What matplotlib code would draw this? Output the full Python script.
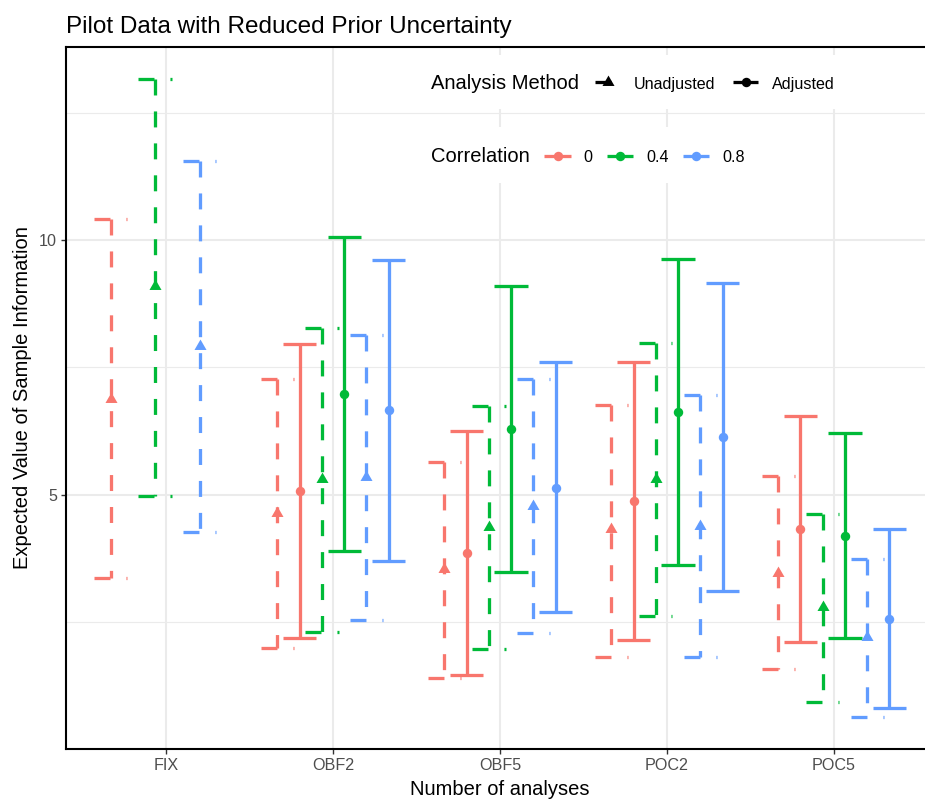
import numpy as np
import matplotlib
matplotlib.use("Agg")
import matplotlib.pyplot as plt
from matplotlib.path import Path
from matplotlib.patches import Rectangle
from matplotlib.lines import Line2D

plt.rcParams["font.family"] = ["Liberation Sans", "DejaVu Sans"]
plt.rcParams["lines.scale_dashes"] = False

# ---- data -------------------------------------------------------------
categories = ["FIX", "OBF2", "OBF5", "POC2", "POC5"]
correlations = ["0", "0.4", "0.8"]
methods = ["Unadjusted", "Adjusted"]
nan = np.nan

# Unadjusted analysis
unadj_upper = {
    "0":   [10.41, 7.28, 5.64, 6.76, 5.36],
    "0.4": [13.17, 8.27, 6.75, 7.98, 4.62],
    "0.8": [11.56, 8.13, 7.28, 6.96, 3.74],
}
unadj_est = {
    "0":   [6.88, 4.65, 3.54, 4.33, 3.47],
    "0.4": [9.10, 5.31, 4.37, 5.31, 2.79],
    "0.8": [7.92, 5.34, 4.78, 4.39, 2.20],
}
unadj_lower = {
    "0":   [3.36, 1.99, 1.40, 1.82, 1.58],
    "0.4": [4.98, 2.31, 1.97, 2.61, 0.92],
    "0.8": [4.26, 2.53, 2.28, 1.82, 0.63],
}

# Adjusted analysis (not defined for the fixed design)
adj_upper = {
    "0":   [nan, 7.96, 6.25, 7.60, 6.54],
    "0.4": [nan, 10.07, 9.10, 9.63, 6.21],
    "0.8": [nan, 9.62, 7.61, 9.16, 4.32],
}
adj_est = {
    "0":   [nan, 5.07, 3.85, 4.87, 4.33],
    "0.4": [nan, 6.97, 6.29, 6.62, 4.19],
    "0.8": [nan, 6.66, 5.14, 6.13, 2.56],
}
adj_lower = {
    "0":   [nan, 2.19, 1.45, 2.14, 2.11],
    "0.4": [nan, 3.89, 3.48, 3.61, 2.19],
    "0.8": [nan, 3.70, 2.69, 3.10, 0.81],
}

series = {
    "Unadjusted": (unadj_lower, unadj_est, unadj_upper),
    "Adjusted": (adj_lower, adj_est, adj_upper),
}

# ---- styling ----------------------------------------------------------
colors = {"0": "#F8766D", "0.4": "#00BA38", "0.8": "#619CFF"}
dash = (0, (11.5, 11.5))
line_styles = {"Unadjusted": dash, "Adjusted": "-"}

# equilateral triangle (centroid at origin) like R's pch 17
tri_verts = [(0.0, 1.1547), (-1.0, -0.5774), (1.0, -0.5774), (0.0, 1.1547)]
tri_marker = Path(tri_verts, [Path.MOVETO, Path.LINETO, Path.LINETO, Path.CLOSEPOLY])
markers = {"Unadjusted": tri_marker, "Adjusted": "o"}
marker_sizes = {"Unadjusted": 10.0, "Adjusted": 6.8}

LW = 2.35
W, H = 925, 801
fig = plt.figure(figsize=(W / 100, H / 100), dpi=100)


def fx(px):
    return px / W


def fy(py):
    return 1 - py / H


# panel extends past the right edge of the canvas
ax = fig.add_axes([fx(66), fy(749), fx(934 - 66), fy(47) - fy(749)])

# y limits with 5% expansion of the data range
all_vals = []
for m in methods:
    lo, _, hi = series[m]
    for c in correlations:
        all_vals += [v for v in lo[c] + hi[c] if not np.isnan(v)]
ymin, ymax = min(all_vals), max(all_vals)
pad = 0.05 * (ymax - ymin)
ax.set_ylim(ymin - pad, ymax + pad)
ax.set_xlim(-0.6, len(categories) - 0.4)

# grid
grid_col = "#EBEBEB"
for yv in [2.5, 7.5, 12.5]:
    ax.axhline(yv, color=grid_col, lw=0.8, zorder=0)
for yv in [5, 10]:
    ax.axhline(yv, color=grid_col, lw=1.5, zorder=0)
for xv in range(len(categories)):
    ax.axvline(xv, color=grid_col, lw=1.5, zorder=0)

# dodged error bars + points
n_slots = len(correlations) * len(methods)
dodge_w = 0.8
slot_w = dodge_w / n_slots
cap_half = 0.1
xpos = np.arange(len(categories))

for ci, c in enumerate(correlations):
    for mi, m in enumerate(methods):
        slot = ci * len(methods) + mi
        off = (slot - (n_slots - 1) / 2) * slot_w
        lo, est, hi = series[m]
        for k, x0 in enumerate(xpos):
            l, e, u = lo[c][k], est[c][k], hi[c][k]
            if np.isnan(l):
                continue
            x = x0 + off
            kw = dict(color=colors[c], lw=LW, linestyle=line_styles[m],
                      solid_capstyle="butt", dash_capstyle="butt", zorder=3)
            ax.plot([x - cap_half, x + cap_half], [u, u], **kw)
            ax.plot([x, x], [u, l], **kw)
            ax.plot([x - cap_half, x + cap_half], [l, l], **kw)
            ax.plot([x], [e], marker=markers[m], ms=marker_sizes[m],
                    color=colors[c], mec="none", linestyle="none", zorder=4)

# axes decoration
ax.set_xticks(xpos)
ax.set_xticklabels(categories)
ax.set_yticks([5, 10])
ax.set_yticklabels(["5", "10"])
ax.tick_params(axis="both", length=3.6, width=1.0, color="#333333",
               labelcolor="#4D4D4D", labelsize=11.6, pad=3.0)
for s in ax.spines.values():
    s.set_color("black")
    s.set_linewidth(1.5)

# titles
fig.text(fx(66), fy(33.3), "Pilot Data with Reduced Prior Uncertainty",
         ha="left", va="baseline", fontsize=17.5, color="black")
fig.text(fx(500), fy(795), "Number of analyses", ha="center", va="baseline",
         fontsize=14.5, color="black")
fig.text(fx(23), fy(398), "Expected Value of Sample Information",
         rotation=90, ha="center", va="center", fontsize=14.5, color="black")

# ---- legends (horizontal, inside panel) --------------------------------
for (x0, y0, x1, y1) in [(421, 55, 849, 109), (421, 127, 757, 183)]:
    fig.patches.append(Rectangle((fx(x0), fy(y1)), fx(x1 - x0), fy(y0) - fy(y1),
                                 transform=fig.transFigure, facecolor="white",
                                 edgecolor="none", zorder=5))


def legend_key(x0, x1, yc, color, ls, marker, ms):
    fig.lines.append(Line2D([fx(x0), fx(x1)], [fy(yc), fy(yc)],
                            transform=fig.transFigure, color=color, lw=LW,
                            linestyle=ls, solid_capstyle="butt",
                            dash_capstyle="butt", zorder=6))
    xc = (x0 + x1) / 2
    fig.lines.append(Line2D([fx(xc)], [fy(yc)], transform=fig.transFigure,
                            marker=marker, ms=ms, color=color, mec="none",
                            linestyle="none", zorder=7))


def legend_text(x, y, s, size):
    fig.text(fx(x), fy(y), s, ha="left", va="baseline", fontsize=size,
             color="black", zorder=8)


# Analysis Method
legend_text(431, 89, "Analysis Method", 14.5)
legend_key(595, 621, 82, "black", line_styles["Unadjusted"], tri_marker, 10.0)
legend_text(634, 88.5, "Unadjusted", 11.6)
legend_key(733, 758, 82, "black", "-", "o", 6.8)
legend_text(772, 88.5, "Adjusted", 11.6)

# Correlation
legend_text(431, 162, "Correlation", 14.5)
key_x = {"0": (544, 571, 583), "0.4": (607, 633, 646), "0.8": (683, 709, 722)}
for c in correlations:
    k0, k1, tx = key_x[c]
    legend_key(k0, k1, 155.7, colors[c], "-", "o", 6.8)
    legend_text(tx, 161.5, c, 11.6)

fig.savefig("out.png", dpi=100, facecolor="white")
